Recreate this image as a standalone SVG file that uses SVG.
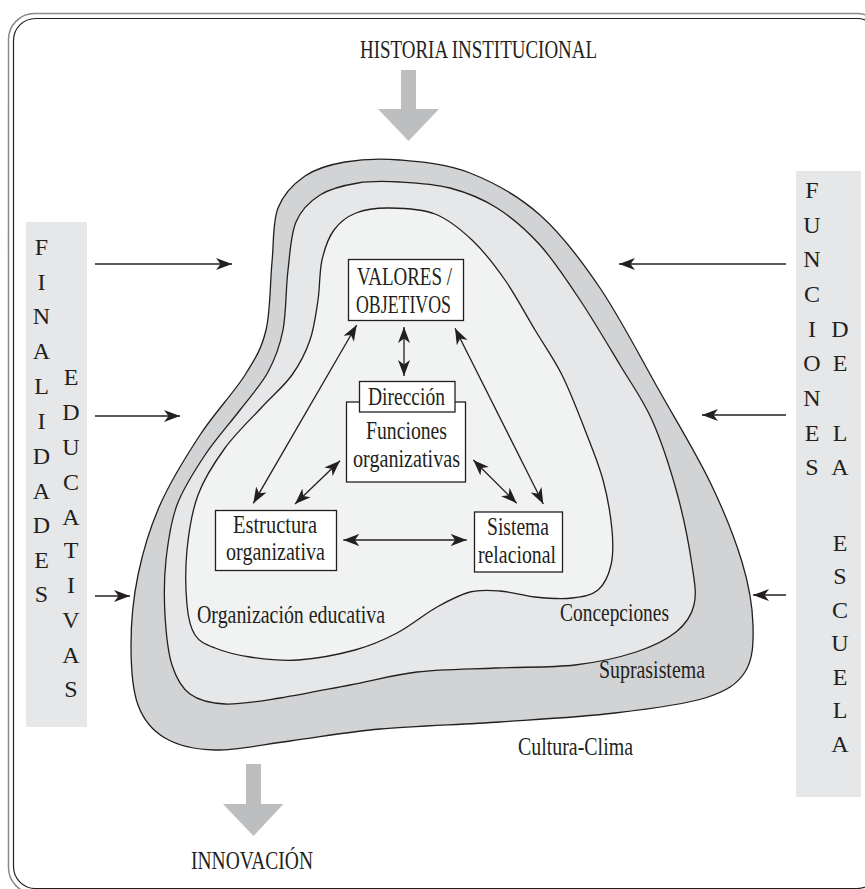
<svg xmlns="http://www.w3.org/2000/svg" width="865" height="889" viewBox="0 0 865 889">
<style>
.t{font-family:"Liberation Serif","Times New Roman",serif;font-size:24.5px;fill:#231f20}
.l{font-family:"Liberation Serif","Times New Roman",serif;font-size:24px;fill:#231f20;text-anchor:middle}
.box{fill:#fff;stroke:#231f20;stroke-width:1.3}
.blob{stroke:#231f20;stroke-width:1.3}
.col{fill:#e6e7e8}
.big{fill:#bcbec0}
.con{stroke:#231f20;stroke-width:1.3;fill:none;marker-start:url(#ah);marker-end:url(#ah)}
.con1{stroke:#231f20;stroke-width:1.3;fill:none;marker-end:url(#ah)}
</style>
<defs>
<marker id="ah" viewBox="0 0 16 13" refX="16" refY="6.5" markerWidth="16" markerHeight="13" markerUnits="userSpaceOnUse" orient="auto-start-reverse">
<path d="M0,0.5 L16,6.5 L0,12.5 L4.5,6.5 Z" fill="#231f20"/>
</marker>
</defs>
<rect width="865" height="889" fill="#fff"/>
<g id="frame" fill="none">
<rect x="8.5" y="13.5" width="874.5" height="880" rx="26" stroke="#8a8a8a" stroke-width="1.5"/>
<rect x="13.5" y="18.5" width="865.5" height="870" rx="22" stroke="#231f20" stroke-width="1.2"/>
</g>
<g id="cultura-clima">
<path class="blob" fill="#d1d3d4" d="M400,160 C420.8,161.8 446.7,163.8 470,173 S518.3,195.8 540,215 S580,258.5 600,288 S641.7,359.7 660,392 S696.3,453.7 710,482 S734.8,538.2 742,562 S752.5,606.7 753,625 S753,659.8 745,672 S726.7,691.2 705,698 S649.2,709 615,713 S539.2,719.3 500,722 S415,725.8 380,729 S317.5,737.5 290,741 S235.8,750.5 215,750 S177.8,745.5 165,738 S143.7,720.5 138,705 S131,666.7 131,645 S133.2,598.3 138,575 S149.7,528.3 160,505 S185.8,456.7 200,435 S234,392.5 245,375 S261.5,348.8 266,330 S270,282.3 272,262 S272.5,222.3 278,208 S293.8,183.7 305,176 S329.2,164.7 345,162 S379.2,158.2 400,160 Z"/>
<text class="t" x="518" y="755" textLength="115" lengthAdjust="spacingAndGlyphs">Cultura-Clima</text>
</g>
<g id="suprasistema">
<path class="blob" fill="#e6e7e8" d="M400,182 C415.3,182.8 433.8,183.7 450,188 S482,198.5 497,208 S526.2,229.7 540,245 S566.7,280 580,300 S608,345 620,365 S642.5,398.7 652,420 S670.3,468.8 677,493 S689.2,546.3 692,565 S696.7,593.8 694,605 S685.7,624.2 676,632 S652.8,646.5 636,652 S598.3,662.3 575,665 S522.3,666.8 496,668 S441.3,669.2 417,672 S372.8,680.7 350,685 S300.8,694.8 280,698 S240,704.7 225,704 S198.8,700.5 190,694 S176.2,678.2 172,665 S166,632.5 165,615 S164,578.3 166,560 S170.5,522.5 177,505 S194.5,470.8 205,455 S229.5,423.8 240,410 S260.8,385.3 268,372 S279.7,347 283,330 S285.8,288 288,270 S290.7,234.5 296,222 S309.7,201.5 320,195 S344.7,185.2 358,183 S384.7,181.2 400,182 Z"/>
<text class="t" x="599" y="678" textLength="106" lengthAdjust="spacingAndGlyphs">Suprasistema</text>
</g>
<g id="concepciones">
<path class="blob" fill="#f1f2f2" d="M390,208 C403.2,208.2 421.3,208.7 435,214 S460.3,229 472,240 S494.5,265 505,280 S525.5,314.2 535,330 S553.7,358.3 562,375 S578.2,412.5 585,430 S598.5,463.3 603,480 S610.7,515.8 612,530 S613.3,555 611,565 S604.5,584.5 598,590 S582.5,596.8 572,598 S547,598.2 535,597 S510.8,591.8 500,591 S480.5,589.3 470,592 S449.2,600.2 437,607 S410.7,625.8 397,633 S371.5,645.5 355,650 S315.5,658.8 298,660 S263.8,659 250,657 S224.2,651.7 215,648 S199.7,642.2 195,635 S188.3,619.2 187,605 S185.2,568.3 187,550 S191.7,512 198,495 S214.3,462.7 225,448 S250.8,419.2 262,407 S284,386.2 292,375 S305.7,352.5 310,340 S316,313.3 318,300 S319.3,271.7 322,260 S328.3,237.8 334,230 S346.7,216.7 356,213 S376.8,207.8 390,208 Z"/>
<text class="t" x="560" y="621" textLength="109" lengthAdjust="spacingAndGlyphs">Concepciones</text>
</g>
<g id="organizacion">
<text class="t" x="197" y="623" textLength="188" lengthAdjust="spacingAndGlyphs">Organización educativa</text>
</g>
<g id="historia">
<text class="t" x="360" y="58" textLength="237" lengthAdjust="spacingAndGlyphs">HISTORIA INSTITUCIONAL</text>
<path class="big" d="M401,70 H416 V109 H439 L408.5,141 L378,109 H401 Z"/>
</g>
<g id="innovacion">
<path class="big" d="M246,764 H261 V804 H283.5 L253.5,836 L223,804 H246 Z"/>
<text class="t" x="191" y="869" textLength="122" lengthAdjust="spacingAndGlyphs">INNOVACIÓN</text>
</g>
<g id="finalidades">
<rect class="col" x="26" y="222" width="61" height="505"/>
<text class="l" x="41.5" y="255">F</text>
<text class="l" x="41.5" y="290">I</text>
<text class="l" x="41.5" y="324">N</text>
<text class="l" x="41.5" y="359">A</text>
<text class="l" x="41.5" y="394">L</text>
<text class="l" x="41.5" y="429">I</text>
<text class="l" x="41.5" y="464">D</text>
<text class="l" x="41.5" y="499">A</text>
<text class="l" x="41.5" y="533">D</text>
<text class="l" x="41.5" y="568">E</text>
<text class="l" x="41.5" y="602">S</text>
<text class="l" x="71" y="385">E</text>
<text class="l" x="71" y="420">D</text>
<text class="l" x="71" y="455">U</text>
<text class="l" x="71" y="490">C</text>
<text class="l" x="71" y="525">A</text>
<text class="l" x="71" y="558">T</text>
<text class="l" x="71" y="593">I</text>
<text class="l" x="71" y="628">V</text>
<text class="l" x="71" y="663">A</text>
<text class="l" x="71" y="697">S</text>
</g>
<g id="funciones-escuela">
<rect class="col" x="796" y="171" width="65" height="626"/>
<text class="l" x="812" y="198">F</text>
<text class="l" x="812" y="233">U</text>
<text class="l" x="812" y="267">N</text>
<text class="l" x="812" y="302">C</text>
<text class="l" x="812" y="337">I</text>
<text class="l" x="812" y="371">O</text>
<text class="l" x="812" y="406">N</text>
<text class="l" x="812" y="441">E</text>
<text class="l" x="812" y="475">S</text>
<text class="l" x="840" y="337">D</text>
<text class="l" x="840" y="371">E</text>
<text class="l" x="840" y="441">L</text>
<text class="l" x="840" y="475">A</text>
<text class="l" x="840" y="551">E</text>
<text class="l" x="840" y="584">S</text>
<text class="l" x="840" y="618">C</text>
<text class="l" x="840" y="651">U</text>
<text class="l" x="840" y="685">E</text>
<text class="l" x="840" y="718">L</text>
<text class="l" x="840" y="752">A</text>
</g>
<g id="valores">
<rect class="box" x="348.5" y="259.5" width="115" height="61"/>
<text class="t" x="357" y="285" textLength="95" lengthAdjust="spacingAndGlyphs">VALORES /</text>
<text class="t" x="356" y="313" textLength="95" lengthAdjust="spacingAndGlyphs">OBJETIVOS</text>
</g>
<g id="funciones">
<rect class="box" x="346.5" y="402" width="119" height="80"/>
<text class="t" x="366" y="439" textLength="81" lengthAdjust="spacingAndGlyphs">Funciones</text>
<text class="t" x="353" y="467" textLength="107" lengthAdjust="spacingAndGlyphs">organizativas</text>
</g>
<g id="direccion">
<rect class="box" x="359.5" y="381.5" width="95.5" height="30.5"/>
<text class="t" x="368" y="405" textLength="77" lengthAdjust="spacingAndGlyphs">Dirección</text>
</g>
<g id="estructura">
<rect class="box" x="215.5" y="510.5" width="121" height="60"/>
<text class="t" x="233" y="533" textLength="84" lengthAdjust="spacingAndGlyphs">Estructura</text>
<text class="t" x="226" y="560" textLength="99" lengthAdjust="spacingAndGlyphs">organizativa</text>
</g>
<g id="sistema">
<rect class="box" x="474.5" y="512" width="88" height="60"/>
<text class="t" x="487" y="535" textLength="62" lengthAdjust="spacingAndGlyphs">Sistema</text>
<text class="t" x="478" y="563" textLength="78" lengthAdjust="spacingAndGlyphs">relacional</text>
</g>
<g id="connectors">
<line class="con" x1="404" y1="327" x2="404" y2="376"/>
<line class="con" x1="356.7" y1="325" x2="253.3" y2="503.3"/>
<line class="con" x1="455" y1="328.3" x2="543.3" y2="504"/>
<line class="con" x1="340" y1="460.7" x2="295" y2="504"/>
<line class="con" x1="473.3" y1="460" x2="516.7" y2="503.3"/>
<line class="con" x1="343.3" y1="540" x2="466.7" y2="540"/>
<line class="con1" x1="95" y1="264" x2="232" y2="264"/>
<line class="con1" x1="95" y1="416" x2="180" y2="416"/>
<line class="con1" x1="95" y1="596" x2="130" y2="596"/>
<line class="con1" x1="786" y1="264" x2="619" y2="264"/>
<line class="con1" x1="786" y1="415" x2="702" y2="415"/>
<line class="con1" x1="786" y1="595" x2="753" y2="595"/>
</g>
</svg>
